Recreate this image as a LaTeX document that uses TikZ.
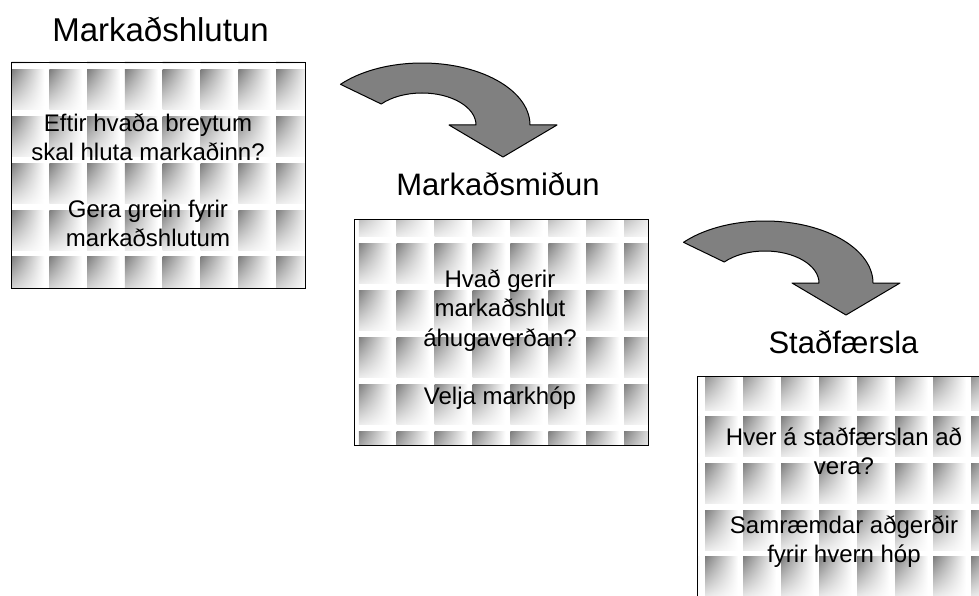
\documentclass[tikz,border=0pt]{standalone}
\usepackage{fontspec}
\setmainfont{Liberation Sans}
\usetikzlibrary{shadings}
\definecolor{tilegray}{RGB}{125,125,125}
\definecolor{arrowgray}{RGB}{128,128,128}
\tikzset{
  turnarrow/.pic={
    \draw[bigarrow] (-139:108 and 62) arc[start angle=-139,end angle=0,x radius=108,y radius=62]
      -- (135,0) -- (81,32) -- (27,0) -- (54,0)
      arc[start angle=0,end angle=-139,x radius=54,y radius=32] -- cycle;
  }
}
\begin{document}
\begin{tikzpicture}[x=1pt,y=-1pt,
  boxframe/.style={draw=black, line width=1.2pt, minimum width=294pt, minimum height=226pt, inner sep=0pt, anchor=north west},
  tile/.style={upper left=tilegray, upper right=white, lower left=white!92!black, lower right=white},
  titleA/.style={font=\fontsize{33}{40}\selectfont, anchor=base, inner sep=0pt},
  titleB/.style={font=\fontsize{31}{38}\selectfont, anchor=base, inner sep=0pt},
  body/.style={font=\fontsize{24}{29}\selectfont, anchor=base, inner sep=0pt},
  bigarrow/.style={fill=arrowgray, draw=black, line width=1pt, line join=round}]
\clip (0,0) rectangle (979,596);
\fill[white] (0,0) rectangle (979,596);

% ---- box 1 tiles
\begin{scope}
  \clip (11,62) rectangle (305,288);
  \foreach \i in {0,...,7}{\foreach \j in {0,...,5}{
    \shade[tile] ({11.5+37.8*\i},{23.3+46.7*\j}) rectangle ++(33,40);}}
\end{scope}
\node[boxframe] (box1) at (11,62) {};

% ---- box 2 tiles
\begin{scope}
  \clip (354,219) rectangle (648,445);
  \foreach \i in {0,...,7}{\foreach \j in {0,...,5}{
    \shade[tile] ({358.8+37.9*\i},{196+47*\j}) rectangle ++(33,40);}}
\end{scope}
\node[boxframe] (box2) at (354,219) {};

% ---- box 3 tiles
\begin{scope}
  \clip (697,376) rectangle (991,602);
  \foreach \i in {-1,...,7}{\foreach \j in {0,...,5}{
    \shade[tile] ({705+38*\i},{370+46.7*\j}) rectangle ++(33,40);}}
\end{scope}
\node[boxframe] (box3) at (697,376) {};

% ---- titles
\node[titleA] (t1) at (160.5,41.7) {Markaðshlutun};
\node[titleB] (t2) at (498,195.7) {Markaðsmiðun};
\node[titleB] (t3) at (843.5,353) {Staðfærsla};

% ---- box texts
\node[body] (a1) at (148,131.7) {Eftir hvaða breytum};
\node[body] (a2) at (148,160.5) {skal hluta markaðinn?};
\node[body] (a3) at (148,218) {Gera grein fyrir};
\node[body] (a4) at (148,246.7) {markaðshlutum};

\node[body] (b1) at (500,287.7) {Hvað gerir};
\node[body] (b2) at (500,316.7) {markaðshlut};
\node[body] (b3) at (500,346) {áhugaverðan?};
\node[body] (b4) at (500,404) {Velja markhóp};

\node[body] (c1) at (844,445) {Hver á staðfærslan að};
\node[body] (c2) at (844,474) {vera?};
\node[body] (c3) at (844,533) {Samræmdar aðgerðir};
\node[body] (c4) at (844,562) {fyrir hvern hóp};

% ---- curved block arrows
\pic (arrA) at (422,125) {turnarrow};
\pic (arrB) at (765,283) {turnarrow};
\end{tikzpicture}
\end{document}
